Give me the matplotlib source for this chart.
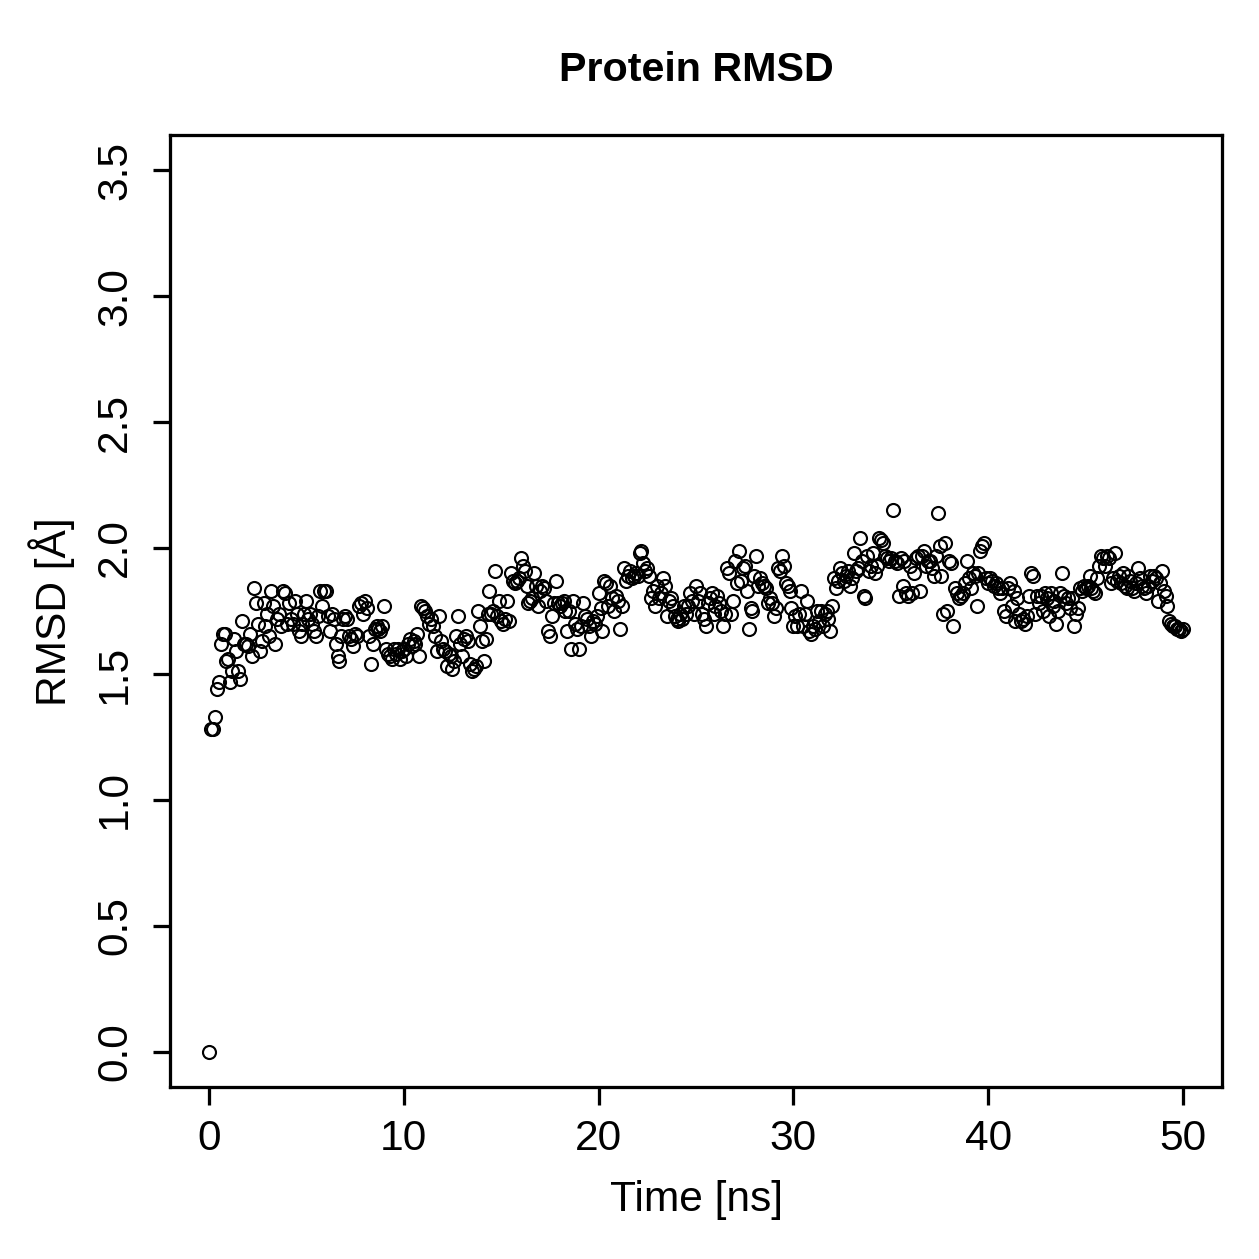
import numpy as np
import matplotlib
matplotlib.use("Agg")
import matplotlib.pyplot as plt

# RMSD per frame (one frame every 0.1 ns)
rmsd_00_05 = [0.00, 1.28, 1.28, 1.33, 1.44, 1.47, 1.62, 1.66, 1.66, 1.55,
              1.56, 1.47, 1.51, 1.64, 1.59, 1.51, 1.48, 1.71, 1.62, 1.62,
              1.61, 1.66, 1.57, 1.84, 1.78, 1.70, 1.59, 1.63, 1.78, 1.69,
              1.74, 1.65, 1.83, 1.77, 1.62, 1.72, 1.74, 1.69, 1.83, 1.82,
              1.70, 1.78, 1.72, 1.70, 1.79, 1.74, 1.67, 1.65, 1.70, 1.74]
rmsd_05_10 = [1.79, 1.72, 1.74, 1.70, 1.67, 1.65, 1.73, 1.83, 1.77, 1.83,
              1.83, 1.73, 1.67, 1.74, 1.72, 1.62, 1.57, 1.55, 1.65, 1.72,
              1.73, 1.72, 1.65, 1.64, 1.61, 1.66, 1.65, 1.77, 1.78, 1.74,
              1.79, 1.76, 1.65, 1.54, 1.62, 1.68, 1.69, 1.68, 1.67, 1.69,
              1.77, 1.60, 1.58, 1.57, 1.56, 1.60, 1.58, 1.60, 1.56, 1.59]
rmsd_10_15 = [1.60, 1.57, 1.62, 1.64, 1.61, 1.63, 1.62, 1.66, 1.57, 1.77,
              1.76, 1.75, 1.73, 1.70, 1.72, 1.69, 1.65, 1.59, 1.73, 1.63,
              1.60, 1.59, 1.53, 1.58, 1.57, 1.52, 1.55, 1.65, 1.73, 1.62,
              1.57, 1.64, 1.65, 1.63, 1.54, 1.51, 1.52, 1.53, 1.75, 1.69,
              1.63, 1.55, 1.64, 1.74, 1.83, 1.74, 1.75, 1.91, 1.73, 1.79]
rmsd_15_20 = [1.71, 1.70, 1.72, 1.79, 1.71, 1.90, 1.87, 1.86, 1.87, 1.88,
              1.96, 1.93, 1.91, 1.85, 1.78, 1.79, 1.80, 1.90, 1.85, 1.77,
              1.83, 1.85, 1.84, 1.79, 1.67, 1.65, 1.73, 1.78, 1.87, 1.78,
              1.77, 1.78, 1.79, 1.75, 1.67, 1.75, 1.60, 1.79, 1.70, 1.68,
              1.60, 1.69, 1.78, 1.73, 1.72, 1.69, 1.65, 1.71, 1.70, 1.73]
rmsd_20_25 = [1.82, 1.76, 1.67, 1.87, 1.86, 1.77, 1.85, 1.80, 1.75, 1.81,
              1.79, 1.68, 1.77, 1.92, 1.87, 1.89, 1.91, 1.88, 1.89, 1.90,
              1.89, 1.98, 1.99, 1.94, 1.91, 1.92, 1.89, 1.80, 1.83, 1.77,
              1.85, 1.80, 1.82, 1.88, 1.85, 1.73, 1.79, 1.80, 1.77, 1.73,
              1.72, 1.71, 1.74, 1.72, 1.77, 1.74, 1.77, 1.82, 1.79, 1.74]
rmsd_25_30 = [1.85, 1.79, 1.82, 1.74, 1.72, 1.69, 1.78, 1.80, 1.82, 1.74,
              1.77, 1.81, 1.78, 1.75, 1.69, 1.74, 1.92, 1.90, 1.74, 1.79,
              1.95, 1.86, 1.99, 1.87, 1.92, 1.93, 1.83, 1.68, 1.76, 1.75,
              1.89, 1.97, 1.85, 1.88, 1.86, 1.85, 1.84, 1.78, 1.80, 1.78,
              1.73, 1.76, 1.92, 1.91, 1.97, 1.93, 1.86, 1.85, 1.83, 1.76]
rmsd_30_35 = [1.69, 1.73, 1.69, 1.74, 1.83, 1.69, 1.74, 1.79, 1.67, 1.66,
              1.69, 1.68, 1.75, 1.71, 1.75, 1.69, 1.74, 1.75, 1.72, 1.67,
              1.77, 1.88, 1.84, 1.87, 1.92, 1.90, 1.87, 1.89, 1.91, 1.85,
              1.88, 1.98, 1.91, 1.92, 2.04, 1.95, 1.81, 1.80, 1.97, 1.91,
              1.93, 1.98, 1.90, 1.93, 2.04, 2.03, 2.02, 1.97, 1.96, 1.95]
rmsd_35_40 = [1.96, 2.15, 1.95, 1.94, 1.81, 1.96, 1.85, 1.95, 1.82, 1.81,
              1.93, 1.82, 1.90, 1.96, 1.97, 1.83, 1.97, 1.99, 1.93, 1.95,
              1.95, 1.92, 1.89, 1.97, 2.14, 2.01, 1.89, 1.74, 2.02, 1.75,
              1.95, 1.94, 1.69, 1.84, 1.82, 1.80, 1.81, 1.82, 1.86, 1.95,
              1.88, 1.84, 1.90, 1.89, 1.77, 1.90, 1.99, 2.01, 2.02, 1.88]
rmsd_40_45 = [1.86, 1.88, 1.87, 1.85, 1.86, 1.84, 1.82, 1.84, 1.75, 1.73,
              1.84, 1.86, 1.77, 1.83, 1.71, 1.80, 1.74, 1.71, 1.72, 1.70,
              1.73, 1.81, 1.90, 1.89, 1.74, 1.81, 1.78, 1.81, 1.75, 1.82,
              1.80, 1.73, 1.82, 1.77, 1.79, 1.70, 1.75, 1.82, 1.90, 1.81,
              1.78, 1.80, 1.76, 1.80, 1.69, 1.74, 1.76, 1.84, 1.83, 1.85]
rmsd_45_50 = [1.84, 1.85, 1.89, 1.84, 1.83, 1.82, 1.88, 1.93, 1.97, 1.96,
              1.93, 1.97, 1.96, 1.86, 1.88, 1.98, 1.87, 1.89, 1.86, 1.90,
              1.85, 1.84, 1.89, 1.87, 1.84, 1.83, 1.86, 1.92, 1.88, 1.85,
              1.84, 1.82, 1.85, 1.89, 1.87, 1.89, 1.88, 1.79, 1.86, 1.91,
              1.83, 1.81, 1.77, 1.71, 1.70, 1.69, 1.69, 1.68, 1.68, 1.67,
              1.68]

rmsd = np.array(rmsd_00_05 + rmsd_05_10 + rmsd_10_15 + rmsd_15_20 + rmsd_20_25
                + rmsd_25_30 + rmsd_30_35 + rmsd_35_40 + rmsd_40_45 + rmsd_45_50)
time_ns = np.arange(len(rmsd)) * 0.1

x_ticks = [0, 10, 20, 30, 40, 50]
y_ticks = [0.0, 0.5, 1.0, 1.5, 2.0, 2.5, 3.0, 3.5]

plt.rcParams['font.family'] = ['Liberation Sans', 'DejaVu Sans']

W = H = 1259
fig = plt.figure(figsize=(W / 180, H / 180), dpi=180)
ax = fig.add_axes([170 / W, 1 - 1087 / H, (1222 - 170) / W, (1087 - 135) / H])

ax.plot(time_ns, rmsd, linestyle='none', marker='o', markersize=5.2,
        markerfacecolor='none', markeredgecolor='black', markeredgewidth=0.85)

ax.set_xlim(-2, 52)
ax.set_ylim(-0.14, 3.64)
ax.set_xticks(x_ticks)
ax.set_xticklabels([str(v) for v in x_ticks])
ax.set_yticks(y_ticks)
ax.set_yticklabels(['%.1f' % v for v in y_ticks], rotation=90, va='center')

for s in ax.spines.values():
    s.set_linewidth(1.3)
ax.tick_params(direction='out', length=7, width=1.3, labelsize=17, pad=6)
ax.tick_params(axis='y', pad=7)

fig.text(696 / W, 1 - 70 / H, 'Protein RMSD', ha='center', va='center',
         fontsize=16.5, fontweight='bold')
fig.text(696 / W, 1 - 1200 / H, 'Time [ns]', ha='center', va='center', fontsize=17)
fig.text(52 / W, 1 - 612 / H, 'RMSD [Å]', ha='center', va='center',
         fontsize=17, rotation=90)

fig.savefig('out.png', dpi=180)
